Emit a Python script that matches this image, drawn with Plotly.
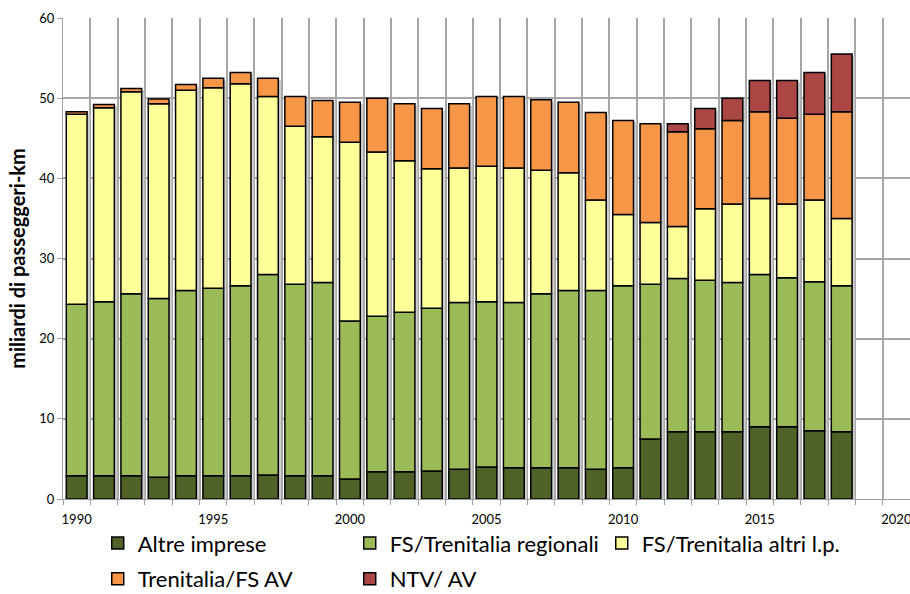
import plotly.graph_objects as go

years = list(range(1990, 2019))

altre_imprese = [2.9, 2.9, 2.9, 2.7, 2.9, 2.9, 2.9, 3.0, 2.9, 2.9, 2.5, 3.4, 3.4, 3.5, 3.7,
                 4.0, 3.9, 3.9, 3.9, 3.7, 3.9, 7.5, 8.4, 8.4, 8.4, 9.0, 9.0, 8.5, 8.4]
fs_regionali = [21.4, 21.7, 22.7, 22.3, 23.1, 23.4, 23.7, 25.0, 23.9, 24.1, 19.7, 19.4, 19.9, 20.3, 20.8,
                20.6, 20.6, 21.7, 22.1, 22.3, 22.7, 19.3, 19.1, 18.9, 18.6, 19.0, 18.6, 18.6, 18.2]
fs_altri_lp = [23.7, 24.2, 25.2, 24.3, 25.0, 25.0, 25.2, 22.2, 19.7, 18.2, 22.3, 20.5, 18.9, 17.4, 16.8,
               16.9, 16.8, 15.4, 14.7, 11.3, 8.9, 7.7, 6.5, 8.9, 9.8, 9.5, 9.2, 10.2, 8.4]
trenitalia_av = [0.3, 0.4, 0.4, 0.6, 0.7, 1.2, 1.4, 2.3, 3.7, 4.5, 5.0, 6.7, 7.1, 7.5, 8.0,
                 8.7, 8.9, 8.8, 8.8, 10.9, 11.7, 12.3, 11.8, 10.0, 10.4, 10.8, 10.7, 10.7, 13.3]
ntv_av = [None] * 22 + [1.0, 2.5, 2.8, 3.9, 4.7, 5.2, 7.2]

series_names = ["Altre imprese", "FS/Trenitalia regionali", "FS/Trenitalia altri l.p.",
                "Trenitalia/FS AV", "NTV/ AV"]
series_values = [altre_imprese, fs_regionali, fs_altri_lp, trenitalia_av, ntv_av]
series_colors = ["#4F6228", "#9BBB59", "#FFFF99", "#F79646", "#AA4643"]
series_legend_row = ["legend", "legend", "legend", "legend2", "legend2"]

x_tick_years = [1990, 1995, 2000, 2005, 2010, 2015, 2020]
y_ticks = [0, 10, 20, 30, 40, 50, 60]

FONT = "Lato, 'Open Sans', sans-serif"
BAR_W = 0.76

# cumulative bases for the stacked segments (computed from the series above)
bases = []
running = [0.0] * len(years)
for vals in series_values:
    bases.append(list(running))
    running = [r + (v or 0.0) for r, v in zip(running, vals)]
totals = running

fig = go.Figure()

# soft drop shadow behind each stacked column (Excel-style)
fig.add_trace(go.Bar(
    x=years, y=[t - 0.25 for t in totals], base=[0] * len(years),
    width=BAR_W, offset=-BAR_W / 2 + 0.1,
    marker=dict(color="#CFCFCF", line=dict(width=0)),
    showlegend=False, hoverinfo="skip",
))

for name, vals, base, col, lg in zip(series_names, series_values, bases, series_colors, series_legend_row):
    fig.add_trace(go.Bar(
        x=years, y=vals, base=base, name=name, legend=lg,
        marker=dict(color=col, line=dict(color="#000000", width=1.5)),
        width=BAR_W, offset=-BAR_W / 2,
    ))

legend_common = dict(
    orientation="h",
    xanchor="left", yanchor="middle",
    entrywidth=207, entrywidthmode="pixels",
    font=dict(size=22, family=FONT, color="#000000"),
    traceorder="normal",
    itemwidth=30,
    bgcolor="rgba(0,0,0,0)",
)

fig.update_layout(
    barmode="overlay",
    width=910, height=594,
    paper_bgcolor="white", plot_bgcolor="white",
    margin=dict(l=63, r=0, t=18, b=95, autoexpand=False),
    font=dict(family=FONT, color="#000000", size=13),
    showlegend=True,
    legend=dict(x=0.041, y=-0.092, **legend_common),
    legend2=dict(x=0.041, y=-0.166, **legend_common),
    xaxis=dict(
        range=[1989.5, 2020.5],
        tickmode="array", tickvals=x_tick_years,
        ticktext=[str(v) for v in x_tick_years],
        showgrid=False, ticks="",
        ticklabeloverflow="allow",
        ticklabelstandoff=8,
        showline=True, linecolor="#A0A0A0", linewidth=1,
        tickfont=dict(size=13),
        minor=dict(tick0=1989.5, dtick=1, showgrid=True, gridcolor="#A6A6A6",
                   gridwidth=1.5, ticks="outside", ticklen=5, tickcolor="#A0A0A0"),
        zeroline=False,
    ),
    yaxis=dict(
        range=[0, 60], tickmode="array", tickvals=y_ticks,
        showgrid=True, gridcolor="#A6A6A6", gridwidth=1.5,
        showline=True, linecolor="#A0A0A0", linewidth=1,
        ticks="outside", ticklen=5, tickcolor="#A0A0A0",
        tickfont=dict(size=13),
        title=dict(text="<b>miliardi di passeggeri-km</b>", font=dict(size=20), standoff=8),
        zeroline=False,
    ),
)

fig.write_html("out.html", config={"displayModeBar": False},
               post_script="document.body.style.margin='0';")
